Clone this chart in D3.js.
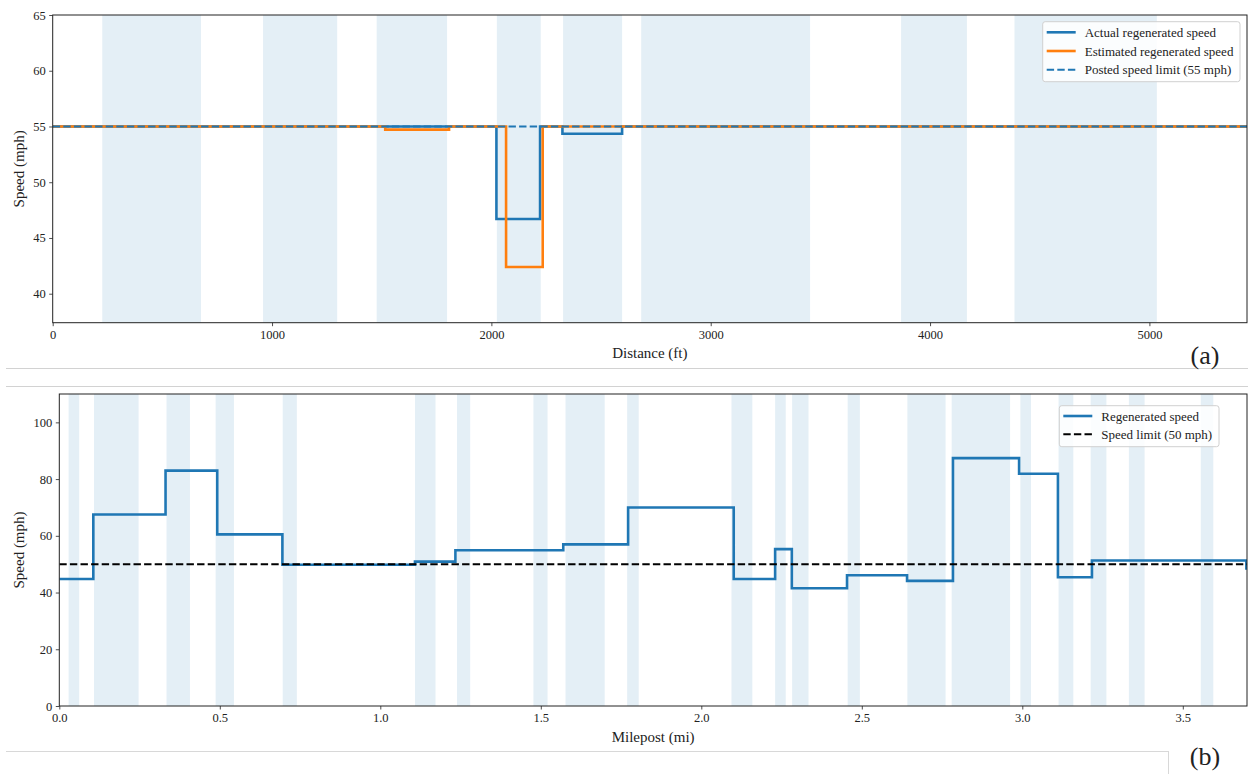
<!DOCTYPE html>
<html><head><meta charset="utf-8">
<script src="https://cdn.jsdelivr.net/npm/d3@7"></script>
<style>
body{margin:0;background:#fff;}
svg{display:block;}
text{font-family:"Liberation Serif","Times New Roman",serif !important;fill:#222;}
</style></head>
<body><svg id="c" width="1248" height="774"></svg>
<script>
// ---------- Panel (a) data ----------
const aXTicks = [0,1000,2000,3000,4000,5000];
const aYTicks = [40,45,50,55,60,65];
const aBands = [[226,676],[959,1297],[1477,1798],[2025,2225],[2327,2596],[2683,3453],[3868,4168],[4385,5034]];
const aActualX = [0,2023,2222,2324,2596,5445];
const aActualY = [55,46.7,55,54.35,55,55];
const aEstX = [0,1516,1807,2067,2234,5445];
const aEstY = [55,54.72,55,42.4,55,55];
const aLimit = 55;
const aLegend = ["Actual regenerated speed","Estimated regenerated speed","Posted speed limit (55 mph)"];

// ---------- Panel (b) data ----------
const bXTicks = [0,0.5,1.0,1.5,2.0,2.5,3.0,3.5];
const bYTicks = [0,20,40,60,80,100];
const bBands = [[0.029,0.062],[0.108,0.247],[0.334,0.407],[0.487,0.544],[0.696,0.740],[1.108,1.172],[1.239,1.280],[1.477,1.521],[1.577,1.699],[1.769,1.805],[2.094,2.159],[2.230,2.263],[2.283,2.334],[2.456,2.494],[2.642,2.761],[2.780,2.962],[2.994,3.027],[3.113,3.159],[3.213,3.262],[3.332,3.381],[3.556,3.595]];
const bSpeedX = [0,0.106,0.331,0.492,0.695,1.108,1.234,1.570,1.772,2.101,2.230,2.282,2.454,2.641,2.784,2.990,3.111,3.217,3.698,3.76];
const bSpeedY = [44.8,67.5,83.0,60.5,49.8,50.9,54.9,57.0,70.0,44.8,55.3,41.5,46.1,44.1,87.4,81.9,45.4,51.3,48.5,48.5];
const bLimit = 50;
const bLegend = ["Regenerated speed","Speed limit (50 mph)"];

const C0 = "#1f77b4", C1 = "#ff7f0e";
const bandColor = "#e4eff6";
const FONT = "'Liberation Serif','Times New Roman',serif";
const svg = d3.select("#c");

// document separators
svg.append("line").attr("x1",6).attr("x2",1248).attr("y1",368.5).attr("y2",368.5).attr("stroke","#d2d2d2");
svg.append("line").attr("x1",6).attr("x2",1248).attr("y1",386.5).attr("y2",386.5).attr("stroke","#d2d2d2");
svg.append("line").attr("x1",6).attr("x2",1168).attr("y1",751.5).attr("y2",751.5).attr("stroke","#d8d8d8");
svg.append("line").attr("x1",1168.5).attr("x2",1168.5).attr("y1",751).attr("y2",774).attr("stroke","#d8d8d8");

function panel(cfg){
  const g = svg.append("g");
  const x = d3.scaleLinear().domain(cfg.xDomain).range([cfg.left,cfg.right]);
  const y = d3.scaleLinear().domain(cfg.yDomain).range([cfg.bottom,cfg.top]);
  const clipId = "clip"+cfg.id;
  svg.append("defs").append("clipPath").attr("id",clipId).append("rect")
    .attr("x",cfg.left).attr("y",cfg.top).attr("width",cfg.right-cfg.left).attr("height",cfg.bottom-cfg.top);
  const pg = g.append("g").attr("clip-path",`url(#${clipId})`);
  pg.selectAll("rect.band").data(cfg.bands).join("rect").attr("class","band")
    .attr("x",d=>x(d[0])).attr("width",d=>x(d[1])-x(d[0]))
    .attr("y",cfg.top).attr("height",cfg.bottom-cfg.top).attr("fill",bandColor);
  const line = d3.line().x(d=>x(d[0])).y(d=>y(d[1])).curve(d3.curveStepAfter);
  cfg.series.forEach(s=>{
    pg.append("path").datum(s.x.map((v,i)=>[v,s.y[i]])).attr("d",line)
      .attr("fill","none").attr("stroke",s.color).attr("stroke-width",s.width)
      .attr("stroke-dasharray",s.dash||null).attr("stroke-linejoin","miter");
  });
  // axes
  const xa = g.append("g").attr("transform",`translate(0,${cfg.bottom})`)
    .call(d3.axisBottom(x).tickValues(cfg.xTicks).tickSize(3.5).tickPadding(3.5).tickFormat(cfg.xFmt));
  const ya = g.append("g").attr("transform",`translate(${cfg.left},0)`)
    .call(d3.axisLeft(y).tickValues(cfg.yTicks).tickSize(3.5).tickPadding(3.5).tickFormat(d3.format("d")));
  [xa,ya].forEach(a=>{
    a.attr("font-family",FONT).attr("font-size",null);
    a.select(".domain").remove();
    a.selectAll("line").attr("stroke","#222").attr("stroke-width",0.8);
    a.selectAll("text").style("font-size","12.5px").style("font-family",FONT).attr("fill","#222");
  });
  g.append("rect").attr("x",cfg.left).attr("y",cfg.top).attr("width",cfg.right-cfg.left).attr("height",cfg.bottom-cfg.top)
    .attr("fill","none").attr("stroke","#222").attr("stroke-width",1);
  g.append("text").attr("x",(cfg.left+cfg.right)/2).attr("y",cfg.xLabelY).attr("text-anchor","middle")
    .style("font-size","15px").text(cfg.xLabel);
  g.append("text").attr("transform",`translate(${cfg.yLabelX},${(cfg.top+cfg.bottom)/2}) rotate(-90)`)
    .attr("text-anchor","middle").style("font-size","15px").text("Speed (mph)");
  // legend
  const L = cfg.legend;
  const lg = g.append("g");
  lg.append("rect").attr("x",L.x).attr("y",L.y).attr("width",L.w).attr("height",L.h).attr("rx",2.5)
    .attr("fill","#fff").attr("fill-opacity",0.85).attr("stroke","#d0d0d0");
  L.items.forEach((it,i)=>{
    const yy = L.y + L.first + i*L.step;
    lg.append("line").attr("x1",L.x+4).attr("x2",L.x+33).attr("y1",yy).attr("y2",yy)
      .attr("stroke",it.color).attr("stroke-width",it.width).attr("stroke-dasharray",it.dash||null);
    lg.append("text").attr("x",L.x+42).attr("y",yy+4.5).style("font-size","13px").text(it.label);
  });
  g.append("text").attr("x",1205).attr("y",cfg.tagY).attr("text-anchor","middle").style("font-size","26px").text(cfg.tag);
}

panel({
  id:"a", xDomain:[0,5445], yDomain:[37.4,65], left:52.7, right:1247, top:15, bottom:322.7,
  bands:aBands, xTicks:aXTicks, yTicks:aYTicks, xFmt:d3.format("d"),
  series:[
    {x:aActualX,y:aActualY,color:C0,width:2.6},
    {x:aEstX,y:aEstY,color:C1,width:2.6},
    {x:[0,5445],y:[aLimit,aLimit],color:C0,width:2,dash:"7.4,3.2"}
  ],
  xLabel:"Distance (ft)", xLabelY:358, yLabelX:24,
  legend:{x:1042.7,y:21.7,w:197.3,h:60,first:10.6,step:18.7,items:[
    {label:aLegend[0],color:C0,width:2.6},
    {label:aLegend[1],color:C1,width:2.6},
    {label:aLegend[2],color:C0,width:2,dash:"7.4,3.2"}]},
  tag:"(a)", tagY:364
});

panel({
  id:"b", xDomain:[0,3.7], yDomain:[0,110], left:59.3, right:1247, top:394, bottom:706,
  bands:bBands, xTicks:bXTicks, yTicks:bYTicks, xFmt:d3.format(".1f"),
  series:[
    {x:bSpeedX,y:bSpeedY,color:C0,width:2.6},
    {x:[0,3.7],y:[bLimit,bLimit],color:"#000",width:2,dash:"7.4,3.2"}
  ],
  xLabel:"Milepost (mi)", xLabelY:742, yLabelX:24,
  legend:{x:1059.3,y:405.7,w:159.7,h:41,first:10.3,step:18.3,items:[
    {label:bLegend[0],color:C0,width:2.6},
    {label:bLegend[1],color:"#000",width:2,dash:"7.4,3.2"}]},
  tag:"(b)", tagY:765
});
</script></body></html>
